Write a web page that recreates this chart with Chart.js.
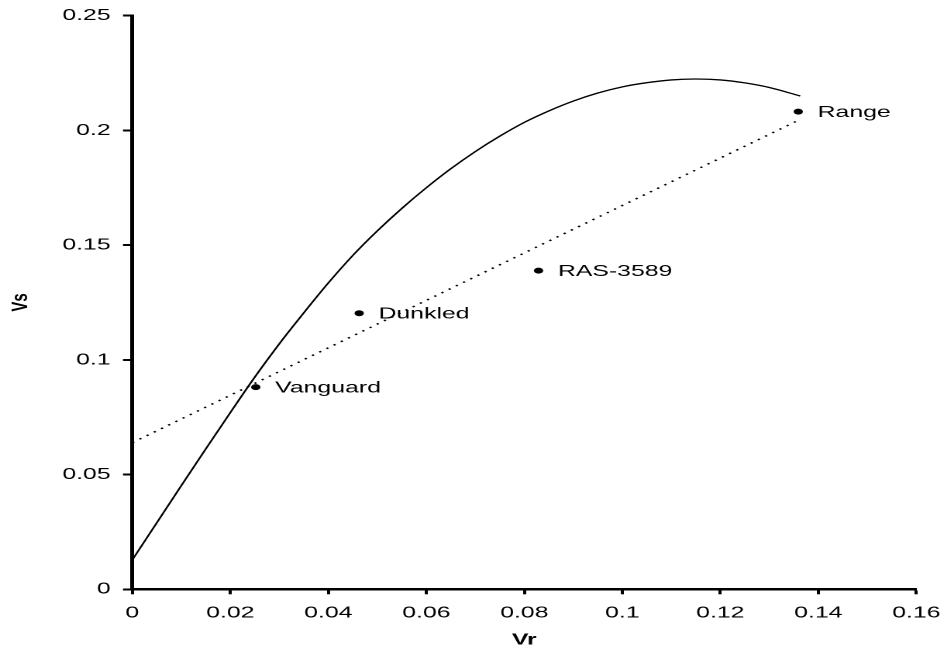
<!DOCTYPE html>
<html>
<head>
<meta charset="utf-8">
<script src="https://cdn.jsdelivr.net/npm/chart.js@4/dist/chart.umd.min.js"></script>
<style>
  html, body { margin: 0; padding: 0; background: #fff; overflow: hidden; }
  #wrap { position: absolute; left: 0; top: 0; width: 611px; height: 652px;
          transform: scaleX(1.55); transform-origin: 0 0; }
</style>
</head>
<body>
<div id="wrap"><canvas id="c"></canvas></div>
<script>
// ---- data ----
const varietyNames = ['Vanguard', 'Dunkled', 'RAS-3589', 'Range'];
const varietyVr = [0.0252, 0.0463, 0.0829, 0.1359];
const varietyVs = [0.0881, 0.1203, 0.1389, 0.2082];

const trendVr = [0, 0.1361];
const trendVs = [0.0639, 0.2046];

const curveVr = [0, 0.005, 0.010, 0.015, 0.020, 0.025, 0.030, 0.035, 0.040, 0.045,
                 0.050, 0.055, 0.060, 0.065, 0.070, 0.075, 0.080, 0.085, 0.090, 0.095,
                 0.100, 0.105, 0.110, 0.115, 0.120, 0.125, 0.130, 0.1363];
const curveVs = [0.0128, 0.0290, 0.0452, 0.0612, 0.0770, 0.0925, 0.1070, 0.1205, 0.1335, 0.1455,
                 0.1562, 0.1660, 0.1750, 0.1833, 0.1908, 0.1975, 0.2035, 0.2085, 0.2128, 0.2163,
                 0.2190, 0.2208, 0.2220, 0.2224, 0.2220, 0.2207, 0.2187, 0.2150];

const xTickLabels = ['0', '0.02', '0.04', '0.06', '0.08', '0.1', '0.12', '0.14', '0.16'];
const yTickLabels = ['0', '0.05', '0.1', '0.15', '0.2', '0.25'];
const xTitle = 'Vr';
const yTitle = 'Vs';

const toXY = (xs, ys) => xs.map((x, i) => ({ x: x, y: ys[i] }));

const FONT = 'Liberation Sans, Arial, Helvetica, sans-serif';

const labelPlugin = {
  id: 'pointLabels',
  afterDatasetsDraw(chart) {
    const meta = chart.getDatasetMeta(2);
    const ctx = chart.ctx;
    ctx.save();
    ctx.font = '16px ' + FONT;
    ctx.fillStyle = '#000';
    ctx.textAlign = 'left';
    ctx.textBaseline = 'middle';
    meta.data.forEach((pt, i) => {
      ctx.fillText(varietyNames[i], pt.x + 12.5, pt.y + 1);
    });
    ctx.restore();
  }
};

new Chart(document.getElementById('c'), {
  type: 'scatter',
  data: {
    datasets: [
      {
        data: toXY(curveVr, curveVs),
        showLine: true,
        borderColor: '#000',
        borderWidth: 1.3,
        pointRadius: 0,
        cubicInterpolationMode: 'monotone',
        fill: false
      },
      {
        data: toXY(trendVr, trendVs),
        showLine: true,
        borderColor: '#000',
        borderWidth: 1.5,
        borderDash: [1.5, 4.3],
        pointRadius: 0,
        fill: false
      },
      {
        data: toXY(varietyVr, varietyVs),
        showLine: false,
        pointRadius: 3,
        pointBackgroundColor: '#000',
        pointBorderColor: '#000',
        pointBorderWidth: 0
      }
    ]
  },
  options: {
    responsive: true,
    maintainAspectRatio: false,
    animation: false,
    devicePixelRatio: 2,
    layout: { padding: { top: 15.7, right: 19.8, bottom: 0, left: 0 } },
    plugins: { legend: { display: false }, tooltip: { enabled: false } },
    scales: {
      x: {
        type: 'linear',
        min: 0, max: 0.16,
        afterFit: (s) => { s.height = 62.7; s.paddingRight = 0; s.paddingLeft = 0; },
        ticks: {
          stepSize: 0.02,
          autoSkip: false,
          maxRotation: 0,
          padding: 9,
          color: '#000',
          font: { family: FONT, size: 16 },
          callback: (v, i) => xTickLabels[i]
        },
        grid: { drawOnChartArea: false, drawTicks: true, tickLength: 5, tickWidth: 2, tickColor: '#000' },
        border: { display: true, color: '#000', width: 2.5 },
        title: { display: true, text: xTitle, color: '#000',
                 font: { family: FONT, size: 16, weight: 'bold' }, padding: { top: 0, bottom: 2.4 } }
      },
      y: {
        type: 'linear',
        min: 0, max: 0.25,
        afterFit: (s) => { s.width = 85.35; s.paddingTop = 0; s.paddingBottom = 0; },
        ticks: {
          stepSize: 0.05,
          autoSkip: false,
          padding: 8,
          color: '#000',
          font: { family: FONT, size: 16 },
          callback: (v, i) => yTickLabels[i]
        },
        grid: { drawOnChartArea: false, drawTicks: true, tickLength: 6, tickWidth: 2, tickColor: '#000' },
        border: { display: true, color: '#000', width: 2.5 },
        title: { display: true, text: yTitle, color: '#000',
                 font: { family: FONT, size: 15, weight: 'bold' }, padding: { top: 4.6, bottom: 0 } }
      }
    }
  },
  plugins: [labelPlugin]
});
</script>
</body>
</html>
